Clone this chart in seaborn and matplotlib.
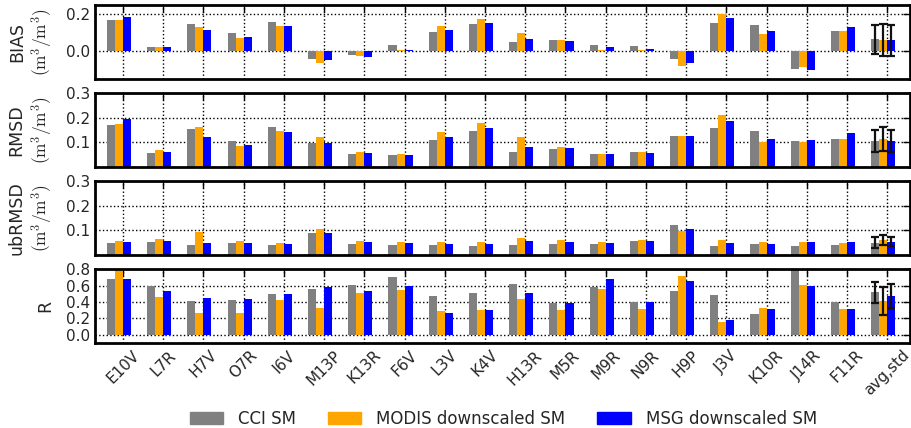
import numpy as np
import pandas as pd
import matplotlib
matplotlib.use("Agg")
import matplotlib.pyplot as plt
import seaborn as sns
from matplotlib.patches import Patch

# ===== DATA =====
stations = ['E10V', 'L7R', 'H7V', 'O7R', 'I6V', 'M13P', 'K13R', 'F6V', 'L3V', 'K4V',
            'H13R', 'M5R', 'M9R', 'N9R', 'H9P', 'J3V', 'K10R', 'J14R', 'F11R', 'avg,std']
products = ['CCI SM', 'MODIS downscaled SM', 'MSG downscaled SM']
colors = ['gray', 'orange', 'blue']

bias_cci = [0.167, 0.024, 0.149, 0.096, 0.158, -0.044, -0.022, 0.031, 0.105, 0.145,
            0.049, 0.062, 0.031, 0.029, -0.042, 0.155, 0.140, -0.100, 0.107, 0.064]
bias_modis = [0.167, 0.024, 0.133, 0.069, 0.136, -0.064, -0.027, 0.008, 0.136, 0.176,
              0.100, 0.062, 0.004, 0.004, -0.082, 0.204, 0.091, -0.087, 0.107, 0.060]
bias_msg = [0.187, 0.022, 0.113, 0.076, 0.136, -0.049, -0.031, 0.008, 0.113, 0.155,
            0.064, 0.056, 0.020, 0.011, -0.067, 0.182, 0.107, -0.102, 0.129, 0.058]
bias_std = [0.080, 0.088, 0.084]

rmsd_cci = [0.171, 0.057, 0.152, 0.105, 0.162, 0.098, 0.050, 0.049, 0.110, 0.147,
            0.060, 0.071, 0.050, 0.060, 0.127, 0.156, 0.144, 0.103, 0.114, 0.105]
rmsd_modis = [0.176, 0.067, 0.162, 0.086, 0.144, 0.121, 0.061, 0.052, 0.143, 0.180,
              0.120, 0.082, 0.050, 0.059, 0.127, 0.210, 0.100, 0.099, 0.114, 0.113]
rmsd_msg = [0.193, 0.060, 0.122, 0.090, 0.141, 0.097, 0.057, 0.048, 0.121, 0.159,
            0.082, 0.076, 0.050, 0.057, 0.125, 0.186, 0.114, 0.109, 0.137, 0.105]
rmsd_std = [0.045, 0.048, 0.045]

ubrmsd_cci = [0.049, 0.054, 0.041, 0.046, 0.038, 0.090, 0.045, 0.039, 0.038, 0.037,
              0.038, 0.042, 0.042, 0.056, 0.121, 0.037, 0.042, 0.034, 0.039, 0.049]
ubrmsd_modis = [0.057, 0.064, 0.093, 0.056, 0.049, 0.105, 0.057, 0.054, 0.052, 0.052,
                0.069, 0.059, 0.053, 0.060, 0.099, 0.059, 0.050, 0.050, 0.048, 0.061]
ubrmsd_msg = [0.053, 0.058, 0.046, 0.049, 0.044, 0.087, 0.052, 0.049, 0.045, 0.044,
              0.057, 0.053, 0.048, 0.057, 0.107, 0.049, 0.045, 0.050, 0.050, 0.053]
ubrmsd_std = [0.022, 0.020, 0.018]

r_cci = [0.679, 0.598, 0.409, 0.427, 0.494, 0.566, 0.607, 0.706, 0.476, 0.512,
         0.625, 0.391, 0.580, 0.400, 0.530, 0.490, 0.256, 0.810, 0.400, 0.521]
r_modis = [0.810, 0.463, 0.265, 0.265, 0.427, 0.333, 0.508, 0.548, 0.292, 0.297,
           0.436, 0.297, 0.557, 0.315, 0.715, 0.157, 0.333, 0.611, 0.310, 0.413]
r_msg = [0.679, 0.539, 0.449, 0.440, 0.494, 0.584, 0.539, 0.593, 0.265, 0.297,
         0.512, 0.387, 0.679, 0.400, 0.656, 0.184, 0.319, 0.602, 0.315, 0.472]
r_std = [0.130, 0.170, 0.146]


def long_df(cci, modis, msg):
    frames = []
    for name, vals in zip(products, [cci, modis, msg]):
        frames.append(pd.DataFrame({'station': stations, 'product': name, 'value': vals}))
    return pd.concat(frames, ignore_index=True)


unit = '\n$(\\mathrm{m^3/m^3})$'
panels = [
    ('BIAS' + unit, long_df(bias_cci, bias_modis, bias_msg), bias_std, (-0.15, 0.25), [0.0, 0.2]),
    ('RMSD' + unit, long_df(rmsd_cci, rmsd_modis, rmsd_msg), rmsd_std, (0.0, 0.3), [0.1, 0.2, 0.3]),
    ('ubRMSD' + unit, long_df(ubrmsd_cci, ubrmsd_modis, ubrmsd_msg), ubrmsd_std, (0.0, 0.3), [0.1, 0.2, 0.3]),
    ('R', long_df(r_cci, r_modis, r_msg), r_std, (-0.1, 0.8), [0.0, 0.2, 0.4, 0.6, 0.8]),
]

# ===== STYLE =====
sns.set_style("white")
plt.rcParams['font.family'] = ['DejaVu Sans']
plt.rcParams['mathtext.fontset'] = 'cm'

fig, axes = plt.subplots(4, 1, figsize=(9.12, 4.28), dpi=100)
fig.subplots_adjust(left=0.104, right=0.998, top=0.988, bottom=0.199, hspace=0.2)

xpos = np.arange(len(stations)) + 0.1

for i, (ax, (label, df, std, ylim, yticks)) in enumerate(zip(axes, panels)):
    sns.barplot(data=df, x='station', y='value', hue='product', hue_order=products,
                palette=colors, saturation=1, width=0.6, errorbar=None, linewidth=0,
                legend=False, ax=ax)
    # std error bars on the last (avg) group
    for cont, s in zip(ax.containers, std):
        bar = cont.patches[-1]
        ax.errorbar(bar.get_x() + bar.get_width() / 2, bar.get_height(), yerr=s,
                    fmt='none', ecolor='#111111', elinewidth=1.6, capsize=3, capthick=1.6)
    ax.set_ylim(*ylim)
    ax.set_yticks(yticks)
    ax.set_xlim(-0.6, 19.67)
    ax.set_xticks(xpos)
    if i == len(axes) - 1:
        ax.set_xticklabels(stations, rotation=45)
    else:
        ax.set_xticklabels([])
    ax.set_xlabel('')
    ax.set_ylabel(label, fontsize=12.5, labelpad=8)
    ax.grid(True, linestyle=':', color='k', linewidth=1)
    ax.set_axisbelow(True)
    ax.tick_params(direction='in', top=True, right=True, length=5, width=1,
                   color='k', labelsize=11)
    for sp in ax.spines.values():
        sp.set_linewidth(2)
        sp.set_color('k')

handles = [Patch(color=c, label=p) for c, p in zip(colors, products)]
fig.legend(handles=handles, loc='lower center', bbox_to_anchor=(0.552, -0.035), ncol=3,
           frameon=False, fontsize=12, handlelength=2.0, handleheight=0.7,
           columnspacing=1.9, handletextpad=0.9)

fig.savefig("out.png", dpi=100)
